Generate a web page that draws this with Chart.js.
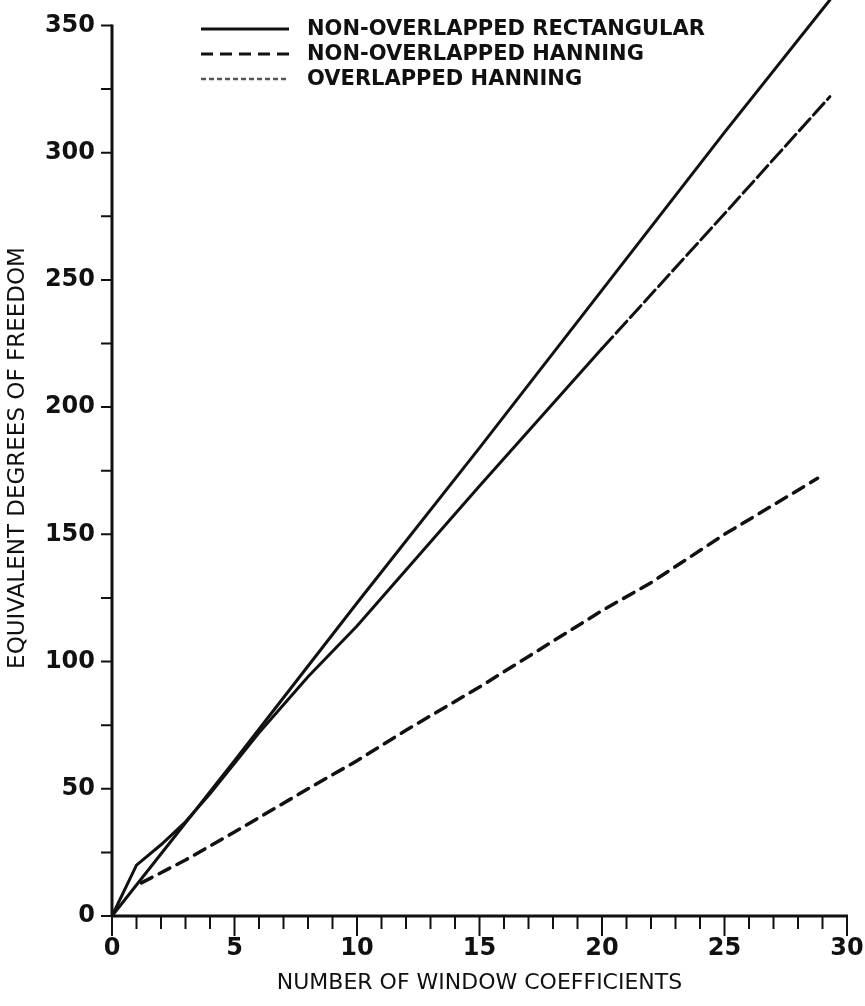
<!DOCTYPE html>
<html>
<head>
<meta charset="utf-8">
<script src="https://cdn.jsdelivr.net/npm/chart.js@4.4.0/dist/chart.umd.min.js"></script>
<style>
  html, body { margin: 0; padding: 0; background: #fff; }
  #wrap { width: 865px; height: 1006px; }
</style>
</head>
<body>
<div id="wrap"><canvas id="myCanvas"></canvas></div>
<script>
// degrees of freedom vs number of window coefficients
const rectX = [0, 5, 10, 15, 20, 25, 29.3];
const rectY = [0, 61, 123, 184, 246, 308, 360];

const hannX = [1.2, 3, 5, 8, 10, 12, 15, 17, 20, 22, 25, 28.8];
const hannY = [13, 22, 33, 50, 61, 73, 90, 102, 120, 131, 150, 172];

const ovlX = [0, 1, 2, 3, 4, 5, 6, 8, 10, 15, 20, 25, 29.3];
const ovlY = [0, 20, 28, 37, 48, 60, 72, 94, 114, 169, 223, 276, 322];

const seriesNames = ['NON-OVERLAPPED RECTANGULAR', 'NON-OVERLAPPED HANNING', 'OVERLAPPED HANNING'];
const xTickLabels = [0, 5, 10, 15, 20, 25, 30];
const yTickLabels = [0, 50, 100, 150, 200, 250, 300, 350];
const yMinorTicks = [25, 75, 125, 175, 225, 275, 325];

const xTitle = 'NUMBER OF WINDOW COEFFICIENTS';
const yTitle = 'EQUIVALENT DEGREES OF FREEDOM';

function toPoints(xs, ys) {
    return xs.map((x, i) => ({ x: x, y: ys[i] }));
}

const ink = '#111';

// axis lines, tick marks and the legend block
const axesPlugin = {
    id: 'axesPlugin',
    afterDraw(chart) {
        const ctx = chart.ctx;
        const xs = chart.scales.x, ys = chart.scales.y;
        const x0 = xs.getPixelForValue(0), x1 = xs.getPixelForValue(30);
        const y0 = ys.getPixelForValue(0), yTop = ys.getPixelForValue(350);

        ctx.save();
        ctx.strokeStyle = ink;
        ctx.lineCap = 'butt';

        // axes
        ctx.lineWidth = 3;
        ctx.beginPath();
        ctx.moveTo(x0, yTop - 1);
        ctx.lineTo(x0, y0 + 1);
        ctx.moveTo(x0 - 1, y0);
        ctx.lineTo(x1 + 1, y0);
        ctx.stroke();

        // x ticks, one per coefficient
        ctx.lineWidth = 2;
        ctx.beginPath();
        for (let v = 0; v <= 30; v++) {
            const px = xs.getPixelForValue(v);
            const len = v % 5 === 0 ? 20 : 13;
            ctx.moveTo(px, y0);
            ctx.lineTo(px, y0 + len);
        }
        // y ticks
        yTickLabels.concat(yMinorTicks).forEach(v => {
            const py = ys.getPixelForValue(v);
            ctx.moveTo(x0, py);
            ctx.lineTo(x0 - 11, py);
        });
        ctx.stroke();

        // legend
        const lg = chart.options.plugins.axesPlugin;
        chart.data.datasets.forEach((ds, i) => {
            const ly = lg.top + i * lg.rowGap;
            ctx.strokeStyle = lg.colors[i];
            ctx.lineWidth = lg.widths[i];
            ctx.setLineDash(lg.dashes[i]);
            ctx.beginPath();
            ctx.moveTo(lg.left, ly);
            ctx.lineTo(lg.left + lg.sample, ly);
            ctx.stroke();
            ctx.setLineDash([]);
            ctx.fillStyle = ink;
            ctx.font = 'bold 21px "DejaVu Sans"';
            ctx.textBaseline = 'middle';
            ctx.textAlign = 'left';
            ctx.fillText(ds.label, lg.left + lg.sample + 18, ly + 1);
        });
        ctx.restore();
    }
};

const c = document.getElementById('myCanvas');
const chart = new Chart(c.getContext('2d'), {
    type: 'line',
    data: {
        datasets: [
            {
                label: seriesNames[0],
                data: toPoints(rectX, rectY),
                borderColor: ink,
                borderWidth: 3
            },
            {
                label: seriesNames[1],
                data: toPoints(hannX, hannY),
                borderColor: ink,
                borderWidth: 3.5,
                borderDash: [12, 8]
            },
            {
                label: seriesNames[2],
                data: toPoints(ovlX, ovlY),
                borderColor: ink,
                borderWidth: 3,
                segment: {
                    borderDash: s => s.p0.parsed.x >= 20 ? [16, 5] : undefined
                }
            }
        ]
    },
    options: {
        responsive: true,
        maintainAspectRatio: false,
        animation: false,
        clip: false,
        layout: { padding: { top: 0, right: 18, bottom: 0, left: 0 } },
        elements: {
            point: { radius: 0 },
            line: { tension: 0, fill: false, borderCapStyle: 'round' }
        },
        plugins: {
            legend: { display: false },
            tooltip: { enabled: false },
            axesPlugin: {
                left: 201,
                top: 29,
                rowGap: 25,
                sample: 88,
                colors: [ink, ink, '#555'],
                widths: [3, 3, 2.5],
                dashes: [[], [12, 7], [5, 3]]
            }
        },
        scales: {
            x: {
                type: 'linear',
                min: 0,
                max: 30,
                afterFit: s => { s.height = 90; s.paddingLeft = 0; s.paddingRight = 0; },
                afterBuildTicks: s => { s.ticks = xTickLabels.map(v => ({ value: v })); },
                grid: { display: false, drawTicks: false },
                border: { display: false },
                ticks: {
                    padding: 18,
                    color: ink,
                    maxRotation: 0,
                    autoSkip: false,
                    font: { family: '"DejaVu Sans"', size: 24, weight: 'bold' }
                },
                title: {
                    display: true,
                    text: xTitle,
                    color: ink,
                    padding: { top: 0, bottom: 10 },
                    font: { family: '"DejaVu Sans"', size: 22 }
                }
            },
            y: {
                type: 'linear',
                min: 0,
                max: 360,
                afterFit: s => { s.width = 112; s.paddingTop = 0; s.paddingBottom = 0; },
                afterBuildTicks: s => { s.ticks = yTickLabels.map(v => ({ value: v })); },
                grid: { display: false, drawTicks: false },
                border: { display: false },
                ticks: {
                    padding: 17,
                    color: ink,
                    autoSkip: false,
                    font: { family: '"DejaVu Sans"', size: 24, weight: 'bold' }
                },
                title: {
                    display: true,
                    text: yTitle,
                    color: ink,
                    padding: { top: 4, bottom: 0 },
                    font: { family: '"DejaVu Sans"', size: 23 }
                }
            }
        }
    },
    plugins: [axesPlugin]
});
</script>
</body>
</html>
